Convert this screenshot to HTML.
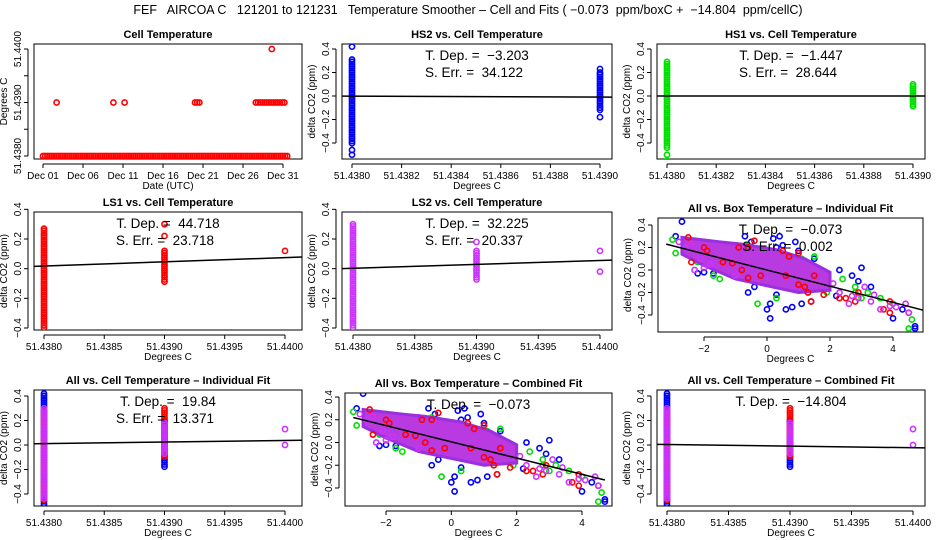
<!DOCTYPE html>
<html><head><meta charset="utf-8"><style>
body{margin:0;background:#fff;}
svg{display:block;font-family:"Liberation Sans",Arial,sans-serif;}
text{white-space:pre;}
</style></head><body>
<svg id="chart" width="936" height="540" viewBox="0 0 936 540">
<text x="468" y="14" text-anchor="middle" font-size="12.5" xml:space="preserve">FEF   AIRCOA C   121201 to 121231   Temperature Smoother – Cell and Fits ( −0.073  ppm/boxC +  −14.804  ppm/cellC)</text>
<defs id="defs"></defs>
</svg>
<script>
// ---- data ----
const cellTempRuns=[[1,31.7,51.4380],[2.7,2.9,51.4390],[9.8,9.9,51.4390],[11.2,11.3,51.4390],[20,20.8,51.4390],[27.6,31.3,51.4390],[29.6,29.8,51.4400]];
const dayTicks=[1,6,11,16,21,26,31];
const dayLabels=["Dec 01","Dec 06","Dec 11","Dec 16","Dec 21","Dec 26","Dec 31"];
const cellYTicks=[51.4380,51.4385,51.4390,51.4395,51.4400];
const cellYLabels=["51.4380","","51.4390","","51.4400"];
const fineXTicks=[51.4380,51.4382,51.4384,51.4386,51.4388,51.4390];
const wideXTicks=[51.4380,51.4385,51.4390,51.4395,51.4400];
const co2Ticks=[-0.4,-0.2,0.0,0.2,0.4];
const boxXTicks=[-2,0,2,4];
// column data: [x, ymin, ymax]
const hs2Cols=[[51.4380,-0.42,0.31],[51.4390,-0.12,0.2]];
const hs2Pts=[[51.4380,-0.5],[51.4380,0.42],[51.4380,-0.46],[51.4390,-0.18],[51.4390,0.23]];
const hs1Cols=[[51.4380,-0.45,0.29],[51.4390,-0.1,0.1]];
const hs1Pts=[[51.4380,-0.55],[51.4380,-0.5]];
const ls1Cols=[[51.4380,-0.4,0.27],[51.4390,-0.1,0.12]];
const ls1Pts=[[51.4380,-0.45],[51.4390,0.3],[51.4390,0.22],[51.4400,0.12]];
const ls2Cols=[[51.4380,-0.4,0.3],[51.4390,-0.08,0.12]];
const ls2Pts=[[51.4380,-0.45],[51.4390,0.18],[51.4400,0.12],[51.4400,-0.02]];
const allCellColsBlue=[[51.4380,-0.5,0.42],[51.4390,-0.18,0.2]];
const allCellColsRed=[[51.4380,-0.45,0.27],[51.4390,-0.1,0.3]];
const allCellColsMag=[[51.4380,-0.45,0.3],[51.4390,-0.08,0.18]];
const allCellPts=[[51.4400,0.13],[51.4400,0.0]];
const blueX=[-2.7,-2.9,-2.2,-2.0,-1.7,-1.3,-1.0,-0.7,-0.5,-0.6,-0.4,0.1,0.0,0.1,0.3,0.6,0.8,1.1,1.4,1.5,0.9,0.5,0.2,1.0,2.2,2.7,3.0,2.9,3.3,4.0,4.3,4.7,4.7,2.3,-0.3,0.4,0.3];
const blueY=[0.43,0.3,-0.03,-0.02,-0.03,0.1,0.22,0.3,0.25,-0.2,-0.15,-0.3,-0.35,-0.43,-0.22,-0.35,-0.33,-0.3,-0.28,0.1,0.25,0.22,0.28,0.17,-0.23,-0.05,0.02,-0.1,-0.15,-0.43,-0.35,-0.52,-0.5,0.0,-0.1,0.3,0.2];
const greenX=[-3.0,-2.9,-2.0,-1.6,-1.7,-1.5,-0.3,0.3,0.7,1.1,1.5,1.7,1.9,2.4,2.8,3.2,3.0,2.8,3.6,4.0,4.6,4.5,-2.2,0.9,-0.6,0.0,1.3];
const greenY=[0.27,0.15,0.25,0.2,-0.05,-0.08,-0.3,-0.25,-0.1,0.1,0.12,-0.1,-0.2,-0.08,-0.2,-0.2,-0.25,-0.15,-0.25,-0.3,-0.44,-0.52,0.07,0.03,0.22,0.0,-0.2];
const redX=[-2.5,-2.4,-2.0,-1.9,-2.4,-1.4,-1.1,-0.8,-0.6,-0.2,-0.4,-0.6,0.5,0.6,1.2,1.3,1.0,1.5,1.8,1.4,2.3,2.5,2.8,2.9,3.7,3.9,4.5,3.9,-0.9,0.7,1.0];
const redY=[0.29,0.23,0.2,0.17,0.07,0.07,0.06,0.0,-0.07,-0.05,0.26,0.2,0.17,-0.05,-0.15,-0.2,-0.13,-0.05,-0.22,-0.28,-0.25,-0.25,-0.28,-0.2,-0.35,-0.38,-0.38,-0.28,0.2,0.12,0.15];
const magX=[-2.8,-2.6,-2.4,-2.3,-2.1,-1.8,-2.0,-1.0,2.1,2.3,2.6,2.9,3.1,3.3,3.6,3.9,4.1,4.4,4.5,2.7,3.4];
const magY=[0.25,0.2,0.23,0.0,0.1,0.05,0.02,-0.05,-0.12,-0.2,-0.3,-0.25,-0.15,-0.28,-0.35,-0.32,-0.33,-0.3,-0.38,-0.23,-0.22];
const coreX=[-2.7,-1.5,-0.8,0.3,1.2,2.0,2.0,1.0,0.0,-1.0,-2.0,-2.7];
const coreY=[0.29,0.25,0.23,0.18,0.1,-0.02,-0.18,-0.2,-0.14,-0.08,0.04,0.14];

const NS="http://www.w3.org/2000/svg";
const svg=document.getElementById('chart');
const defs=document.getElementById('defs');
let clipN=0;
function mk(tag,attrs,parent){const e=document.createElementNS(NS,tag);for(const k in attrs)e.setAttribute(k,attrs[k]);(parent||svg).appendChild(e);return e;}
function lin(v0,p0,v1,p1){return v=>p0+(v-v0)*(p1-p0)/(v1-v0);}
function fmtCO2(v){return v<0?"−"+Math.abs(v).toFixed(1):v.toFixed(1);}

function panel(c){
  const g=mk('g',{});
  
  
  const X=lin(...c.xm),Y=lin(...c.ym);
  const id='clip'+(clipN++);
  const cp=mk('clipPath',{id:id},defs);
  mk('rect',{x:c.box[0],y:c.box[1],width:c.box[2]-c.box[0],height:c.box[3]-c.box[1]},cp);
  const r=mk('rect',{x:c.box[0],y:c.box[1],width:c.box[2]-c.box[0],height:c.box[3]-c.box[1],fill:'none',stroke:'#000','stroke-width':1},g);
  
  
  const t=mk('text',{x:(c.box[0]+c.box[2])/2,y:c.box[1]-6,'text-anchor':'middle','font-size':11,'font-weight':'bold'},g);
  t.textContent=c.title;
  
  
  const bottom=c.box[3]+5,left=c.box[0]-6;
  mk('line',{x1:X(c.xt[0]),x2:X(c.xt[c.xt.length-1]),y1:bottom,y2:bottom,stroke:'#000'},g);
  c.xt.forEach((v,i)=>{const x=X(v);mk('line',{x1:x,x2:x,y1:bottom,y2:bottom+4,stroke:'#000'},g);
    const tl=mk('text',{x:x,y:bottom+15,'text-anchor':'middle','font-size':10},g);tl.textContent=c.xl[i];
    
    });
  mk('line',{x1:left,x2:left,y1:Y(c.yt[0]),y2:Y(c.yt[c.yt.length-1]),stroke:'#000'},g);
  c.yt.forEach((v,i)=>{const y=Y(v);mk('line',{x1:left,x2:left-4,y1:y,y2:y,stroke:'#000'},g);
    const tl=mk('text',{x:left-7,y:y,'text-anchor':'middle','font-size':10,transform:`rotate(-90 ${left-7} ${y})`},g);tl.textContent=c.yl[i];
    
    });
  const xl=mk('text',{x:(c.box[0]+c.box[2])/2,y:c.box[3]+30,'text-anchor':'middle','font-size':10},g);xl.textContent=c.xlabel;
  
  
  const yx=c.box[0]-27,yy=(c.box[1]+c.box[3])/2;
  const yl=mk('text',{x:yx,y:yy,'text-anchor':'middle','font-size':10,transform:`rotate(-90 ${yx} ${yy})`},g);yl.textContent=c.ylabel;
  
  
  const inner=mk('g',{'clip-path':`url(#${id})`},g);
  return {g:inner,outer:g,box:c.box,X,Y};
}
function dot(p,x,y,col){const e=mk('circle',{cx:x,cy:y,r:2.6,fill:'none',stroke:col,'stroke-width':1.6},p.g);
  
  }
function columns(p,cols,col){cols.forEach(c=>{const y0=p.Y(c[1]),y1=p.Y(c[2]);for(let y=Math.min(y0,y1);y<=Math.max(y0,y1);y+=2.2)dot(p,p.X(c[0]),y,col);});}
function pts(p,arr,col){arr.forEach(a=>dot(p,p.X(a[0]),p.Y(a[1]),col));}
function xy(p,xs,ys,col){xs.forEach((x,i)=>dot(p,p.X(x),p.Y(ys[i]),col));}
function fit(p,x0,x1,y0,y1){const l=mk('line',{x1:p.X(x0),x2:p.X(x1),y1:p.Y(y0),y2:p.Y(y1),stroke:'#000','stroke-width':1.5},p.g);
  
  }
function note(p,lines){lines.forEach((s,i)=>{const b=p.box;const x=(b[0]+b[2])/2+(i?-3:0);
  const t=mk('text',{x:x,y:b[1]+16+i*17,'text-anchor':'middle','font-size':13.5},p.outer);t.textContent=s;
  
  });}
function core(p){const d=coreX.map((x,i)=>(i?'L':'M')+p.X(x)+' '+p.Y(coreY[i])).join(' ')+'Z';
  const e=mk('path',{d:d,fill:'#b83ae0',stroke:'#9a30e0','stroke-width':3},p.g);
  
  }
function boxScatter(p){xy(p,blueX,blueY,'#0000ff');xy(p,greenX,greenY,'#00e000');core(p);xy(p,redX,redY,'#ff0000');xy(p,magX,magY,'#cc33ff');}

const co2L=co2Ticks.map(fmtCO2);
const wideL=wideXTicks.map(v=>v.toFixed(4)), fineL=fineXTicks.map(v=>v.toFixed(4));
const boxL=boxXTicks.map(v=>v<0?"−"+(-v):""+v);
const dc="delta CO2 (ppm)";

let p=panel({name:'cell-temperature-panel',box:[34,44,302,159],xm:[1,43,31,283],ym:[51.438,156,51.44,49],xt:dayTicks,xl:dayLabels,yt:cellYTicks,yl:cellYLabels,title:'Cell Temperature',xlabel:'Date (UTC)',ylabel:'Degrees C'});
cellTempRuns.forEach(r=>{for(let x=p.X(r[0]);x<=p.X(r[1]);x+=2.2)dot(p,x,p.Y(r[2]),'#ff0000');});
p=panel({name:'hs2-panel',box:[342,44,612,159],xm:[51.438,352,51.439,600],ym:[0.4,49,-0.4,143],xt:fineXTicks,xl:fineL,yt:co2Ticks,yl:co2L,title:'HS2 vs. Cell Temperature',xlabel:'Degrees C',ylabel:dc});
columns(p,hs2Cols,'#0000ff');pts(p,hs2Pts,'#0000ff');fit(p,51.4378,51.4391,0.0,-0.01);note(p,['T. Dep. =  −3.203','S. Err. =  34.122']);
p=panel({name:'hs1-panel',box:[657,44,925,159],xm:[51.438,667,51.439,913],ym:[0.4,49,-0.4,143],xt:fineXTicks,xl:fineL,yt:co2Ticks,yl:co2L,title:'HS1 vs. Cell Temperature',xlabel:'Degrees C',ylabel:dc});
columns(p,hs1Cols,'#00e000');pts(p,hs1Pts,'#00e000');fit(p,51.4378,51.4391,0.0,0.0);note(p,['T. Dep. =  −1.447','S. Err. =  28.644']);
p=panel({name:'ls1-panel',box:[34,212,302,330],xm:[51.438,44,51.44,285],ym:[0.2,239,-0.4,328],xt:wideXTicks,xl:wideL,yt:co2Ticks,yl:co2L,title:'LS1 vs. Cell Temperature',xlabel:'Degrees C',ylabel:dc});
columns(p,ls1Cols,'#ff0000');pts(p,ls1Pts,'#ff0000');fit(p,51.4379,51.4402,0.015,0.08);note(p,['T. Dep. =  44.718','S. Err. =  23.718']);
p=panel({name:'ls2-panel',box:[342,212,612,330],xm:[51.438,353,51.44,600],ym:[0.2,239,-0.4,328],xt:wideXTicks,xl:wideL,yt:co2Ticks,yl:co2L,title:'LS2 vs. Cell Temperature',xlabel:'Degrees C',ylabel:dc});
columns(p,ls2Cols,'#cc33ff');pts(p,ls2Pts,'#cc33ff');fit(p,51.4379,51.4402,0.0,0.06);note(p,['T. Dep. =  32.225','S. Err. =  20.337']);
p=panel({name:'all-box-individual-panel',box:[658,218,923,332],xm:[-2,704,4,893],ym:[0.4,225,-0.4,315],xt:boxXTicks,xl:boxL,yt:co2Ticks,yl:co2L,title:'All vs. Box Temperature – Individual Fit',xlabel:'Degrees C',ylabel:dc});
boxScatter(p);fit(p,-3.2,5.0,0.23,-0.36);note(p,['T. Dep. =  −0.073','S. Err. =  0.002']);
p=panel({name:'all-cell-individual-panel',box:[34,390,302,506],xm:[51.438,44,51.44,285],ym:[0.4,396,-0.4,494],xt:wideXTicks,xl:wideL,yt:co2Ticks,yl:co2L,title:'All vs. Cell Temperature – Individual Fit',xlabel:'Degrees C',ylabel:dc});
columns(p,allCellColsBlue,'#0000ff');columns(p,allCellColsRed,'#ff0000');columns(p,allCellColsMag,'#cc33ff');pts(p,allCellPts,'#cc33ff');pts(p,[[51.438,-0.55]],'#00e000');
fit(p,51.4379,51.4402,0.01,0.04);note(p,['T. Dep. =  19.84','S. Err. =  13.371']);
p=panel({name:'all-box-combined-panel',box:[345,393,612,506],xm:[-2,386,4,582],ym:[0.4,397,-0.4,488],xt:boxXTicks,xl:boxL,yt:co2Ticks,yl:co2L,title:'All vs. Box Temperature – Combined Fit',xlabel:'Degrees C',ylabel:dc});
boxScatter(p);fit(p,-3.0,4.7,0.22,-0.33);note(p,['T. Dep. =  −0.073']);
p=panel({name:'all-cell-combined-panel',box:[657,390,925,506],xm:[51.438,667,51.44,913],ym:[0.4,396,-0.4,494],xt:wideXTicks,xl:wideL,yt:co2Ticks,yl:co2L,title:'All vs. Cell Temperature – Combined Fit',xlabel:'Degrees C',ylabel:dc});
columns(p,allCellColsBlue,'#0000ff');columns(p,allCellColsRed,'#ff0000');columns(p,allCellColsMag,'#cc33ff');pts(p,allCellPts,'#cc33ff');pts(p,[[51.438,-0.55]],'#00e000');
fit(p,51.4379,51.4402,0.005,-0.025);note(p,['T. Dep. =  −14.804']);
</script>
</body></html>
